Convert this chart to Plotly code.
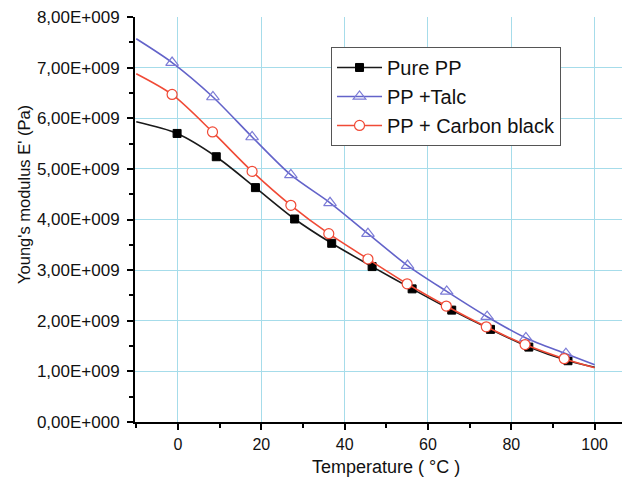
import plotly.graph_objects as go

# ---- data (E' in units of 1e9 Pa) ----
t_pure = [-0.2, 9.2, 18.6, 28.0, 36.9, 46.6, 56.2, 65.7, 75.0, 84.2, 93.6]
e_pure = [5.70, 5.24, 4.63, 4.01, 3.53, 3.07, 2.63, 2.21, 1.83, 1.48, 1.21]
t_talc = [-1.4, 8.4, 17.8, 27.1, 36.5, 45.6, 55.1, 64.5, 74.2, 83.5, 93.1]
e_talc = [7.10, 6.42, 5.63, 4.88, 4.33, 3.72, 3.09, 2.58, 2.08, 1.66, 1.35]
t_cb = [-1.4, 8.3, 17.8, 27.1, 36.2, 45.6, 55.0, 64.4, 74.0, 83.3, 92.7]
e_cb = [6.47, 5.73, 4.95, 4.28, 3.72, 3.22, 2.73, 2.29, 1.88, 1.53, 1.25]
# curve end values at T = -10 and T = 100
t_ends = [-10, 100]
ends_pure = [5.93, 1.08]
ends_talc = [7.57, 1.13]
ends_cb = [6.88, 1.07]

y_tickvals = [0, 1, 2, 3, 4, 5, 6, 7, 8]
y_ticktext = ["0,00E+000", "1,00E+009", "2,00E+009", "3,00E+009", "4,00E+009",
              "5,00E+009", "6,00E+009", "7,00E+009", "8,00E+009"]
x_tickvals = [0, 20, 40, 60, 80, 100]
x_title = "Temperature ( °C )"
y_title = "Young's modulus E' (Pa)"

series = [
    ("Pure PP", t_pure, e_pure, ends_pure, "#1a1a1a",
     dict(symbol="square", size=8, color="#000000", line=dict(color="#000000", width=1))),
    ("PP +Talc", t_talc, e_talc, ends_talc, "#6363c9",
     dict(symbol="triangle-up-open", size=11, color="#7b7bd6", line=dict(width=1.2))),
    ("PP + Carbon black", t_cb, e_cb, ends_cb, "#f04a36",
     dict(symbol="circle", size=10, color="white", line=dict(color="#f04a36", width=1.2))),
]

FONT = "Liberation Sans, Arial, sans-serif"
fig = go.Figure()
for i, (name, t, e, ends, col, mk) in enumerate(series):
    xs = [t_ends[0]] + t + [t_ends[1]]
    ys = [ends[0]] + e + [ends[1]]
    fig.add_trace(go.Scatter(x=xs, y=ys, mode="lines", line=dict(color=col, width=1.6, shape="spline", smoothing=0.8),
                             showlegend=False, hoverinfo="skip"))
    fig.add_trace(go.Scatter(x=t, y=e, mode="markers", marker=mk, showlegend=False))
    fig.add_trace(go.Scatter(x=[None], y=[None], mode="lines+markers", name=name,
                             line=dict(color=col, width=1.6), marker=mk, legendgroup=f"g{i}"))

fig.update_layout(
    width=622, height=477,
    margin=dict(l=127, r=2, t=9, b=63),
    paper_bgcolor="white", plot_bgcolor="white",
    font=dict(family=FONT, size=17, color="#111111"),
    showlegend=True,
    legend=dict(x=0.3976, y=0.926, xanchor="left", yanchor="top",
                bordercolor="#555555", borderwidth=1, bgcolor="white", itemwidth=45,
                font=dict(size=20, family=FONT), tracegroupgap=0, traceorder="normal"),
    xaxis=dict(range=[-10.3, 108], tickvals=x_tickvals, showline=True, linecolor="black", linewidth=2,
               ticks="outside", ticklen=6, tickwidth=1.5, tickcolor="black", automargin=False,
               ticklabelstandoff=1, tickfont=dict(size=16), ticklabeloverflow="allow",
               showgrid=True, gridcolor="#a6dcea", gridwidth=1, zeroline=False,
               minor=dict(dtick=10, tick0=0, ticks="outside", ticklen=4, tickwidth=1.5, tickcolor="black", showgrid=False)),
    yaxis=dict(range=[0, 8], tickvals=y_tickvals, ticktext=y_ticktext, showline=True, linecolor="black", linewidth=2,
               ticks="outside", ticklen=6, tickwidth=1.5, tickcolor="black", automargin=False,
               ticklabelstandoff=4, tickfont=dict(size=17), ticklabeloverflow="allow",
               showgrid=True, gridcolor="#a6dcea", gridwidth=1, zeroline=False,
               minor=dict(dtick=0.5, tick0=0, ticks="outside", ticklen=4, tickwidth=1.5, tickcolor="black", showgrid=False)),
    annotations=[
        dict(text=x_title, xref="paper", yref="paper", x=0.509, y=-0.111, xanchor="center", yanchor="middle",
             showarrow=False, font=dict(size=18, family=FONT, color="#111111")),
        dict(text=y_title, xref="paper", yref="paper", x=-0.2252, y=0.563, xanchor="center", yanchor="middle",
             textangle=-90, showarrow=False, font=dict(size=16.5, family=FONT, color="#111111")),
    ],
)

fig.write_html("out.html")
